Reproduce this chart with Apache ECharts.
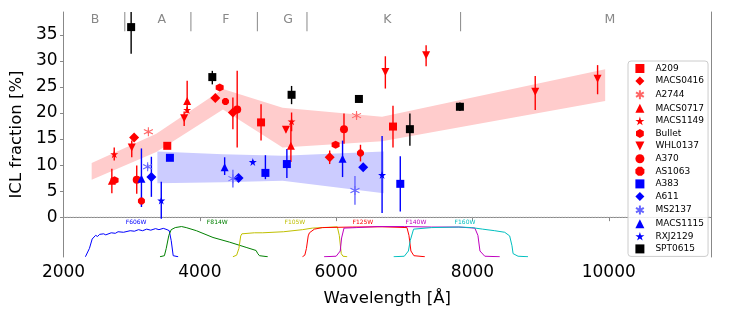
<!DOCTYPE html>
<html><head><meta charset="utf-8">
<script src="https://cdn.jsdelivr.net/npm/echarts@6/dist/echarts.min.js"></script>
<style>html,body{margin:0;padding:0;background:#fff}#c{width:747px;height:312px}</style>
</head><body><div id="c"></div><script>
// ---------- data ----------
const xTicks = [2000, 4000, 6000, 8000, 10000];
const yTicks = [0, 5, 10, 15, 20, 25, 30, 35];
const spectralLabels = ['B', 'A', 'F', 'G', 'K', 'M'];
const spectralLabelX = [2463, 3443, 4381, 5295, 6751, 10015];
const spectralBounds = [2899, 3869, 4844, 5572, 7826];

// [wavelength (Å), ICL fraction (%), error low, error high]
const A209 = [[3522,13.7,13.2,14.2],[4898,18.2,14.7,21.7],[6834,17.4,13.4,21.4]];
const MACS0416 = [[3036,15.3,14.8,15.8],[4227,22.9,22.4,23.4],[4485,20.1,16.9,23.0],[5905,11.5,10.2,12.8]];
const A2744 = [[3245,16.4,16.0,16.8],[6299,19.5,19.0,20.0]];
const MACS0717 = [[2709,7.0,4.6,9.3],[3814,22.3,20.1,26.2],[5336,13.7,10.6,18.0]];
const MACS1149 = [[2744,12.1,10.9,13.4],[3814,20.6,20.0,21.2],[5346,18.4,16.5,20.1]];
const Bullet = [[2749,7.1,6.6,7.6],[4291,24.9,24.5,25.3],[5992,13.9,13.5,14.3]];
const WHL0137 = [[3001,13.4,11.5,14.7],[3770,19.0,17.5,20.3],[5263,16.8,16.3,17.3],[6722,27.9,24.7,30.9],[7320,31.1,29.0,33.0],[8921,24.1,20.6,27.1],[9836,26.6,23.6,29.2]];
const A370 = [[3074,7.2,4.5,9.9],[4548,20.7,13.4,28.1],[6115,16.9,14.1,19.9]];
const AS1063 = [[3143,3.1,2.5,3.7],[4376,22.2,21.7,22.7],[6357,12.3,10.7,13.9]];
const A383 = [[3561,11.4,11.0,11.8],[4962,8.5,7.3,11.9],[5277,10.2,7.5,13.1],[6941,6.4,1.1,11.7]];
const A611 = [[3289,7.7,3.9,11.6],[4568,7.5,7.0,8.0],[6397,9.6,9.1,10.1]];
const MS2137 = [[3234,9.7,9.2,10.2],[4485,7.4,5.7,9.1],[6276,5.1,2.4,7.9]];
const MACS1115 = [[3143,7.4,1.95,13.2],[4364,9.6,8.1,11.5],[6094,11.2,7.7,14.7]];
const RXJ2129 = [[3434,3.2,-0.3,6.8],[4777,10.6,10.2,11.0],[6674,8.1,0.8,15.6]];
const SPT0615 = [[2992,36.5,31.4,41.6],[4183,26.9,25.5,28.1],[5346,23.5,21.7,25.2],[6334,22.7,22.0,23.4],[7082,16.9,13.7,19.9],[7816,21.2,20.4,22.0]];

// shaded bands
const redBandX = [2413, 3361, 4339, 5214, 6673, 9947];
const redBandLo = [7.2, 12.5, 20.7, 13.4, 14.6, 22.3];
const redBandHi = [10.4, 16.0, 24.6, 21.0, 19.3, 28.4];
const blueBandX = [3377, 4339, 5214, 6699];
const blueBandLo = [6.5, 6.7, 7.0, 4.6];
const blueBandHi = [12.6, 12.1, 11.8, 12.6];

// filter throughput curves (scaled into the panel below 0)
const filterNames = ['F606W', 'F814W', 'F105W', 'F125W', 'F140W', 'F160W'];
const filterLabelX = [3065, 4256, 5394, 6392, 7170, 7890];
const F606W = [[2321,-7.6],[2380,-6.0],[2420,-4.2],[2442,-3.9],[2470,-3.5],[2500,-3.7],[2530,-3.3],[2588,-3.2],[2620,-3.4],[2700,-3.0],[2760,-3.1],[2800,-2.8],[2880,-2.9],[2978,-2.6],[3040,-2.7],[3100,-2.4],[3160,-2.6],[3220,-2.3],[3280,-2.5],[3350,-2.2],[3400,-2.4],[3464,-2.15],[3520,-2.4],[3551,-2.6],[3580,-4.5],[3609,-7.4],[3682,-7.6]];
const F814W = [[3415,-7.6],[3480,-7.4],[3507,-6.0],[3545,-3.5],[3580,-2.4],[3639,-2.0],[3731,-1.8],[3800,-2.0],[3950,-2.6],[4193,-3.9],[4437,-4.8],[4679,-5.8],[4825,-6.4],[4850,-7.0],[4875,-7.4],[4996,-7.6]];
const F105W = [[4485,-7.6],[4540,-7.3],[4573,-6.0],[4600,-3.6],[4617,-3.2],[4800,-3.0],[4923,-3.0],[5229,-2.8],[5506,-2.4],[5652,-2.1],[5885,-1.95],[6017,-1.85],[6046,-3.5],[6075,-7.0],[6100,-7.5],[6162,-7.6]];
const F125W = [[5506,-7.6],[5540,-7.3],[5564,-6.0],[5590,-3.6],[5608,-3.0],[5681,-2.3],[5798,-2.0],[6236,-1.9],[6674,-1.85],[7039,-2.0],[7068,-3.5],[7097,-6.5],[7141,-7.4],[7301,-7.6]];
const F140W = [[5823,-7.6],[6000,-7.5],[6060,-6.5],[6080,-4.0],[6115,-2.1],[6300,-2.0],[6600,-1.8],[7000,-1.8],[7400,-1.9],[7800,-1.9],[8035,-2.1],[8080,-3.5],[8110,-6.5],[8181,-7.5],[8400,-7.6]];
const F160W = [[6844,-7.6],[7000,-7.5],[7060,-6.5],[7087,-4.5],[7136,-2.3],[7400,-2.0],[7800,-1.9],[7987,-2.0],[8150,-2.3],[8327,-2.6],[8473,-2.9],[8546,-3.6],[8580,-5.5],[8596,-7.0],[8669,-7.5],[8815,-7.6]];

// ---------- chart ----------
const FONT = 'DejaVu Sans';
const X_MIN = 2000, X_MAX = 11500, Y_MIN = -7.65, Y_MAX = 39.4;
const SPINE = '#888888';
const RED = '#ff0000', BLUE = '#0000ff', BLACK = '#000000';
const LRED = '#ff6666', LBLUE = '#6666ff';

const SYM = {
  star: 'path://M0,-1L0.2245,-0.309L0.951,-0.309L0.363,0.118L0.588,0.809L0,0.382L-0.588,0.809L-0.363,0.118L-0.951,-0.309L-0.2245,-0.309Z',
  hex: 'path://M0,-1L0.866,-0.5L0.866,0.5L0,1L-0.866,0.5L-0.866,-0.5Z',
  oct: 'path://M-0.414,-1L0.414,-1L1,-0.414L1,0.414L0.414,1L-0.414,1L-1,0.414L-1,-0.414Z',
  down: 'path://M-1,-1L1,-1L0,1Z',
  ast: 'path://M0,-1L0,1M-0.866,-0.5L0.866,0.5M-0.866,0.5L0.866,-0.5'
};

const clusters = [
  ['A209', A209, RED, 'rect', 8],
  ['MACS0416', MACS0416, RED, 'diamond', 10],
  ['A2744', A2744, LRED, SYM.ast, 9],
  ['MACS0717', MACS0717, RED, 'triangle', 8],
  ['MACS1149', MACS1149, RED, SYM.star, 8],
  ['Bullet', Bullet, RED, SYM.hex, 8],
  ['WHL0137', WHL0137, RED, SYM.down, 8],
  ['A370', A370, RED, 'circle', 8],
  ['AS1063', AS1063, RED, SYM.oct, 7],
  ['A383', A383, BLUE, 'rect', 8],
  ['A611', A611, BLUE, 'diamond', 10],
  ['MS2137', MS2137, LBLUE, SYM.ast, 9],
  ['MACS1115', MACS1115, BLUE, 'triangle', 8],
  ['RXJ2129', RXJ2129, BLUE, SYM.star, 8],
  ['SPT0615', SPT0615, BLACK, 'rect', 8]
];

function errSeries(name, arr, color) {
  return {
    type: 'custom', name: name + '_err', z: 3, silent: true, clip: true,
    data: arr.map(d => [d[0], d[2], d[3]]),
    encode: { x: 0, y: [1, 2] },
    renderItem(params, api) {
      const p1 = api.coord([api.value(0), api.value(1)]);
      const p2 = api.coord([api.value(0), api.value(2)]);
      return { type: 'line', shape: { x1: p1[0], y1: p1[1], x2: p2[0], y2: p2[1] },
               style: { stroke: color, lineWidth: 1.4 } };
    }
  };
}
function pointSeries(name, arr, color, symbol, size) {
  const isAst = symbol === SYM.ast;
  return {
    type: 'scatter', name: name, z: 4, symbol: symbol, symbolSize: size,
    data: arr.map(d => [d[0], d[1]]),
    itemStyle: isAst ? { color: 'rgba(0,0,0,0)', borderColor: color, borderWidth: 1.1, opacity: 1 }
                     : { color: color, opacity: 1 },
    emphasis: { disabled: true }
  };
}
function bandSeries(xs, lo, hi, color) {
  return {
    type: 'custom', z: 1, silent: true, clip: true,
    data: [[xs[0], lo[0]]],
    renderItem(params, api) {
      const pts = [];
      for (let i = 0; i < xs.length; i++) pts.push(api.coord([xs[i], hi[i]]));
      for (let i = xs.length - 1; i >= 0; i--) pts.push(api.coord([xs[i], lo[i]]));
      return { type: 'polygon', shape: { points: pts }, style: { fill: color } };
    }
  };
}
function textSeries(xs, ys, texts, colors, fontSize) {
  return {
    type: 'custom', z: 5, silent: true, clip: false,
    data: xs.map((x, i) => [x, ys[i], i]),
    renderItem(params, api) {
      const i = api.value(2);
      const p = api.coord([api.value(0), api.value(1)]);
      return { type: 'text', x: p[0], y: p[1],
               style: { text: texts[i], fill: colors[i], fontSize: fontSize, fontFamily: FONT,
                        align: 'center', verticalAlign: 'middle' } };
    }
  };
}

const series = [];
series.push(bandSeries(redBandX, redBandLo, redBandHi, '#ffcccc'));
series.push(bandSeries(blueBandX, blueBandLo, blueBandHi, '#ccccff'));
// zero line
series.push({ type: 'line', z: 2, silent: true, symbol: 'none', data: [[X_MIN, 0], [X_MAX, 0]],
  lineStyle: { color: '#bbbbbb', width: 0.8, type: [1.5, 1.5] } });
// filters
const filterData = [F606W, F814W, F105W, F125W, F140W, F160W];
const filterColors = ['#0000ff', '#008000', '#bfbf00', '#ff0000', '#bf00bf', '#00bfbf'];
filterData.forEach((d, i) => {
  series.push({ type: 'line', name: filterNames[i] + '_curve', z: 2, silent: true, symbol: 'none', data: d,
    lineStyle: { color: filterColors[i], width: 1 } });
});
series.push(textSeries(filterLabelX, filterLabelX.map(() => -1.05), filterNames, filterColors, 6));
// spectral type strip
series.push({
  type: 'custom', z: 5, silent: true, clip: true,
  data: spectralBounds.map(x => [x, Y_MAX]),
  renderItem(params, api) {
    const p1 = api.coord([api.value(0), Y_MAX]);
    const p2 = api.coord([api.value(0), 35.7]);
    return { type: 'line', shape: { x1: p1[0], y1: p1[1], x2: p2[0], y2: p2[1] },
             style: { stroke: SPINE, lineWidth: 1 } };
  }
});
series.push(textSeries(spectralLabelX, spectralLabelX.map(() => 37.9), spectralLabels,
  spectralLabels.map(() => '#888888'), 12.5));
// clusters
clusters.forEach(c => series.push(errSeries(c[0], c[1], c[2])));
clusters.forEach(c => series.push(pointSeries(c[0], c[1], c[2], c[3], c[4])));

const option = {
  animation: false,
  backgroundColor: '#ffffff',
  textStyle: { fontFamily: FONT },
  grid: { left: 60, right: 36, top: 12, bottom: 54 },
  legend: {
    orient: 'vertical', left: 628, top: 61,
    padding: [3, 4, 3, 7], itemWidth: 9, itemHeight: 9, itemGap: 3.6,
    symbolKeepAspect: true,
    borderColor: '#cccccc', borderWidth: 1, borderRadius: 3,
    backgroundColor: 'rgba(255,255,255,0.85)',
    textStyle: { fontSize: 9, fontFamily: FONT, color: '#000', padding: [0, 0, 0, 6] },
    selectedMode: false,
    data: clusters.map(c => c[0])
  },
  xAxis: [{
    type: 'value', min: X_MIN, max: X_MAX, position: 'bottom',
    axisLine: { show: false },
    axisTick: { show: true, customValues: xTicks, length: 4, inside: false, lineStyle: { color: SPINE } },
    axisLabel: { customValues: xTicks, fontSize: 17, color: '#000', margin: 7, fontFamily: FONT,
                 formatter: v => String(v) },
    splitLine: { show: false },
    name: 'Wavelength [Å]', nameLocation: 'middle', nameGap: 33,
    nameTextStyle: { fontSize: 16.5, color: '#000', fontFamily: FONT }
  }, {
    type: 'value', min: X_MIN, max: X_MAX, position: 'top',
    axisLine: { show: true, lineStyle: { color: SPINE, width: 1 } },
    axisTick: { show: false }, axisLabel: { show: false }, splitLine: { show: false }
  }],
  yAxis: [{
    type: 'value', min: Y_MIN, max: Y_MAX, position: 'left',
    axisLine: { show: true, lineStyle: { color: SPINE, width: 1 } },
    axisTick: { show: true, customValues: yTicks, length: 3.5, lineStyle: { color: SPINE } },
    axisLabel: { customValues: yTicks, fontSize: 17, color: '#000', margin: 6, fontFamily: FONT,
                 formatter: v => String(v) },
    splitLine: { show: false },
    name: 'ICL fraction [%]', nameLocation: 'middle', nameGap: 24,
    nameTextStyle: { fontSize: 16.5, color: '#000', fontFamily: FONT }
  }, {
    type: 'value', min: Y_MIN, max: Y_MAX, position: 'right',
    axisLine: { show: true, lineStyle: { color: SPINE, width: 1 } },
    axisTick: { show: false }, axisLabel: { show: false }, splitLine: { show: false }
  }],
  series: series
};
const chart = echarts.init(document.getElementById('c'), null, { renderer: 'canvas' });
chart.setOption(option);
</script></body></html>
